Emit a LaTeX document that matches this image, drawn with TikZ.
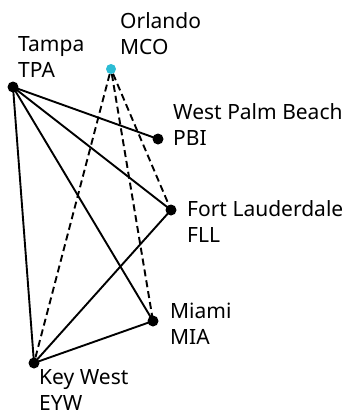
\documentclass[tikz,border=0pt]{standalone}
\usepackage{fontspec}
\setmainfont{Noto Sans}
\usepackage{xcolor}
\usepackage{tikz}
\usetikzlibrary{positioning}
\definecolor{hubcyan}{RGB}{44,188,212}
\tikzset{
  airport/.style={circle, fill=black, inner sep=0pt, minimum size=11pt},
  hubport/.style={circle, fill=hubcyan, inner sep=0pt, minimum size=10pt},
  citylbl/.style={anchor=base west, align=left, inner sep=0pt, font=\fontsize{21}{26}\selectfont},
  route/.style={line width=1.9pt},
  charter/.style={line width=1.9pt, dash pattern=on 7pt off 4pt}
}
\begin{document}
\begin{tikzpicture}[x=1pt, y=-1pt]
\useasboundingbox (0,0) rectangle (346,416);
\node[hubport] (mco) at (111,69) {};
\node[airport] (tpa) at (13,87) {};
\node[airport] (pbi) at (158,139) {};
\node[airport] (fll) at (171,210) {};
\node[airport] (mia) at (153,321) {};
\node[airport] (eyw) at (34,363) {};
% labels: anchor is the baseline of the second line
\node[citylbl] (mco-lbl) at (120,54) {Orlando\\MCO};
\node[citylbl] (tpa-lbl) at (18,77) {Tampa\\TPA};
\node[citylbl] (pbi-lbl) at (173,145) {West Palm Beach\\PBI};
\node[citylbl] (fll-lbl) at (187,242) {Fort Lauderdale\\FLL};
\node[citylbl] (mia-lbl) at (170,344) {Miami\\MIA};
\node[citylbl] (eyw-lbl) at (39,410) {Key West\\EYW};
\draw[route] (tpa.center) -- (pbi.center);
\draw[route] (tpa.center) -- (fll.center);
\draw[route] (tpa.center) -- (mia.center);
\draw[route] (tpa.center) -- (eyw.center);
\draw[route] (fll.center) -- (eyw.center);
\draw[route] (mia.center) -- (eyw.center);
\draw[charter] (mco) -- (eyw.center);
\draw[charter] (mco) -- (mia.center);
\draw[charter] (mco) -- (fll.center);
\end{tikzpicture}
\end{document}
